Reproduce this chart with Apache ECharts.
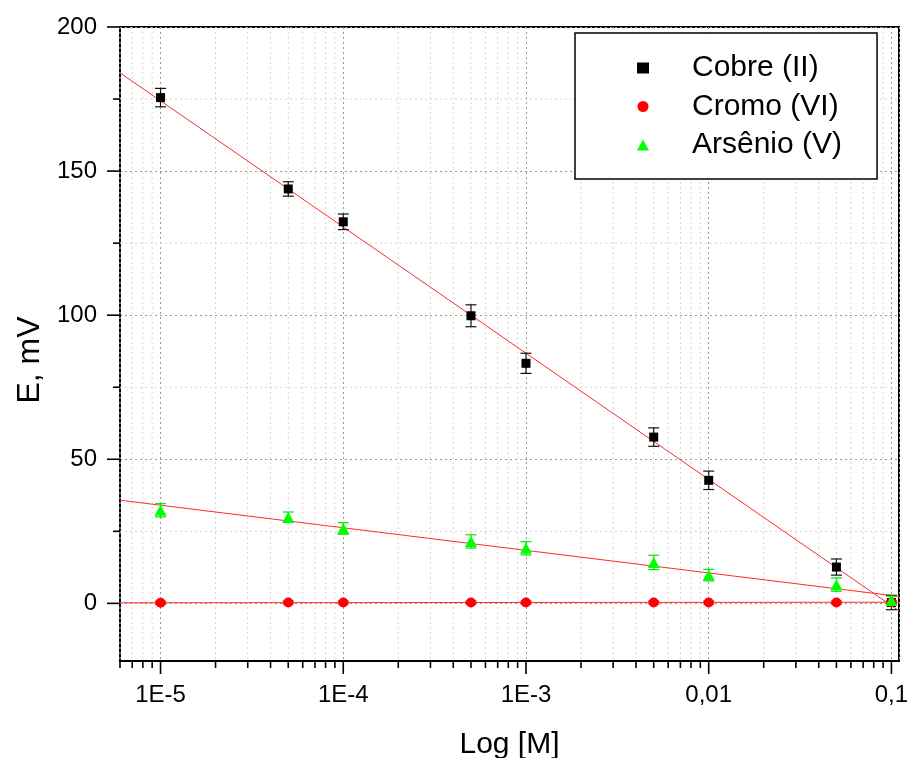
<!DOCTYPE html>
<html>
<head>
<meta charset="utf-8">
<script src="https://cdn.jsdelivr.net/npm/echarts@6/dist/echarts.min.js"></script>
<style>html,body{margin:0;padding:0;background:#fff}#c{width:907px;height:758px}</style>
</head>
<body>
<div id="c"></div>
<script>
// ---- data ----
const conc = [1e-5, 5e-5, 1e-4, 5e-4, 1e-3, 5e-3, 1e-2, 5e-2, 1e-1];
const cobreE = [175.5, 143.8, 132.4, 99.8, 83.3, 57.7, 42.7, 12.6, 0.3];
const cobreErr = [3.2, 2.5, 2.7, 3.8, 3.5, 3.2, 3.2, 2.8, 2.5];
const cromoE = [0.2, 0.3, 0.3, 0.3, 0.3, 0.3, 0.3, 0.3, 0.4];
const cromoErr = [0.5, 0.5, 0.5, 0.5, 0.5, 0.5, 0.5, 0.5, 0.5];
const arsenioE = [32.3, 29.9, 26.0, 21.5, 19.1, 14.2, 9.8, 6.5, 1.0];
const arsenioErr = [2.3, 1.8, 2.0, 2.3, 2.3, 2.5, 2.0, 2.3, 1.5];
// linear fit lines, values read at the two ends of the x range
const fitX = [6e-6, 0.11];
const cobreFit = [184.1, -2.6];
const cromoFit = [0.2, 0.4];
const arsenioFit = [35.8, 2.4];
// axis ticks
const xMajorTicks = [1e-5, 1e-4, 1e-3, 1e-2, 1e-1];
const xTickLabels = ['1E-5', '1E-4', '1E-3', '0,01', '0,1'];
const yMajorTicks = [0, 50, 100, 150, 200];
const yMinorTicks = [25, 75, 125, 175];
const seriesNames = ['Cobre (II)', 'Cromo (VI)', 'Arsênio (V)'];

const xMin = fitX[0], xMax = fitX[1], yMin = -20, yMax = 200;
const FONT = "'Liberation Sans', Arial, sans-serif";

// minor log ticks 2..9 x 10^k inside the range
const xMinorTicks = [];
for (let k = -6; k <= -1; k++) {
  for (let d = 2; d <= 9; d++) {
    const v = d * Math.pow(10, k);
    if (v >= xMin * 0.999 && v <= xMax) xMinorTicks.push(v);
  }
}

function pairs(xs, ys) { return xs.map((x, i) => [x, ys[i]]); }
function errData(xs, ys, es) { return xs.map((x, i) => [x, ys[i] - es[i], ys[i] + es[i]]); }

function errRender(color) {
  return function (params, api) {
    const x = api.value(0);
    const lo = api.coord([x, api.value(1)]);
    const hi = api.coord([x, api.value(2)]);
    const w = 5.5;
    const st = { stroke: color, lineWidth: 1.2 };
    return {
      type: 'group',
      children: [
        { type: 'line', shape: { x1: lo[0], y1: lo[1], x2: hi[0], y2: hi[1] }, style: st },
        { type: 'line', shape: { x1: lo[0] - w, y1: lo[1], x2: lo[0] + w, y2: lo[1] }, style: st },
        { type: 'line', shape: { x1: hi[0] - w, y1: hi[1], x2: hi[0] + w, y2: hi[1] }, style: st }
      ]
    };
  };
}

const xTickData = xMajorTicks.map(v => [v, yMin, 1]).concat(xMinorTicks.map(v => [v, yMin, 0]));
const yTickData = yMajorTicks.map(v => [xMin, v, 1]).concat(yMinorTicks.map(v => [xMin, v, 0]));

const chart = echarts.init(document.getElementById('c'), null, { renderer: 'canvas' });
chart.setOption({
  animation: false,
  backgroundColor: '#fff',
  grid: { left: 120, right: 8, top: 27, bottom: 97, containLabel: false, outerBoundsMode: 'none', show: true, borderColor: '#000', borderWidth: 2, backgroundColor: 'transparent' },
  legend: {
    orient: 'vertical', left: 575, top: 33,
    padding: [20, 35, 19, 62], itemGap: 8.5, itemWidth: 12, itemHeight: 11,
    backgroundColor: '#fff', borderColor: '#000', borderWidth: 1.5,
    selectedMode: false,
    textStyle: { fontSize: 30, fontFamily: FONT, color: '#000', padding: [0, 0, 0, 38] },
    data: [
      { name: seriesNames[0], icon: 'rect', itemStyle: { color: '#000' } },
      { name: seriesNames[1], icon: 'circle' },
      { name: seriesNames[2], icon: 'triangle' }
    ]
  },
  xAxis: {
    type: 'log', min: xMin, max: xMax,
    name: 'Log [M]', nameLocation: 'middle', nameGap: 69,
    nameTextStyle: { fontSize: 30, fontFamily: FONT, color: '#000' },
    axisLine: { onZero: false, lineStyle: { color: '#000', width: 2 } },
    axisTick: { show: false },
    axisLabel: {
      margin: 22, fontSize: 24, fontFamily: FONT, color: '#000',
      showMinLabel: false, showMaxLabel: false,
      formatter: function (v) {
        const i = xMajorTicks.findIndex(t => Math.abs(Math.log10(t) - Math.log10(v)) < 1e-6);
        return i >= 0 ? xTickLabels[i] : '';
      }
    },
    splitLine: { show: true, lineStyle: { color: '#9a9a9a', width: 1, type: [2, 3] } }
  },
  yAxis: {
    type: 'value', min: yMin, max: yMax,
    name: 'E, mV', nameLocation: 'middle', nameGap: 74,
    nameTextStyle: { fontSize: 32, fontFamily: FONT, color: '#000', padding: [0, 32, 0, 0] },
    axisLine: { onZero: false, lineStyle: { color: '#000', width: 2 } },
    axisTick: { show: false },
    axisLabel: { margin: 23, fontSize: 24, fontFamily: FONT, color: '#000', showMinLabel: false },
    splitLine: { show: true, lineStyle: { color: '#9a9a9a', width: 1, type: [2, 3] } }
  },
  series: [
    {
      type: 'custom', name: 'xticks', silent: true, clip: false, z: 1,
      data: xTickData,
      renderItem: function (params, api) {
        const cs = params.coordSys;
        const px = api.coord([api.value(0), yMin])[0];
        const major = api.value(2) === 1;
        const bottom = cs.y + cs.height;
        const ch = [{ type: 'line', shape: { x1: px, y1: bottom, x2: px, y2: bottom + (major ? 13 : 7) }, style: { stroke: '#000', lineWidth: 1.6 } }];
        if (!major) ch.push({ type: 'line', shape: { x1: px, y1: cs.y, x2: px, y2: bottom }, style: { stroke: '#d4d4d4', lineWidth: 1, lineDash: [2, 3] } });
        return { type: 'group', children: ch };
      }
    },
    {
      type: 'custom', name: 'yticks', silent: true, clip: false, z: 1,
      data: yTickData,
      renderItem: function (params, api) {
        const cs = params.coordSys;
        const py = api.coord([xMin, api.value(1)])[1];
        const major = api.value(2) === 1;
        const ch = [{ type: 'line', shape: { x1: cs.x - (major ? 13 : 7), y1: py, x2: cs.x, y2: py }, style: { stroke: '#000', lineWidth: 1.6 } }];
        if (!major) ch.push({ type: 'line', shape: { x1: cs.x, y1: py, x2: cs.x + cs.width, y2: py }, style: { stroke: '#d4d4d4', lineWidth: 1, lineDash: [2, 3] } });
        return { type: 'group', children: ch };
      }
    },
    { type: 'line', name: 'fitCobre', data: pairs(fitX, cobreFit), showSymbol: false, silent: true, z: 2, lineStyle: { color: '#ff2a2a', width: 1 } },
    { type: 'line', name: 'fitCromo', data: pairs(fitX, cromoFit), showSymbol: false, silent: true, z: 2, lineStyle: { color: '#ff2a2a', width: 1 } },
    { type: 'line', name: 'fitArsenio', data: pairs(fitX, arsenioFit), showSymbol: false, silent: true, z: 2, lineStyle: { color: '#ff2a2a', width: 1 } },
    { type: 'custom', name: 'errCobre', data: errData(conc, cobreE, cobreErr), renderItem: errRender('#111'), silent: true, z: 3 },
    { type: 'custom', name: 'errCromo', data: errData(conc, cromoE, cromoErr), renderItem: errRender('#ff0000'), silent: true, z: 3 },
    { type: 'custom', name: 'errArsenio', data: errData(conc, arsenioE, arsenioErr), renderItem: errRender('#00e600'), silent: true, z: 3 },
    { type: 'scatter', name: seriesNames[0], data: pairs(conc, cobreE), symbol: 'rect', symbolSize: 9, itemStyle: { color: '#000', opacity: 1 }, z: 4 },
    { type: 'scatter', name: seriesNames[1], data: pairs(conc, cromoE), symbol: 'circle', symbolSize: 10, itemStyle: { color: '#ff0000', opacity: 1 }, z: 4 },
    { type: 'scatter', name: seriesNames[2], data: pairs(conc, arsenioE), symbol: 'triangle', symbolSize: [12, 11], itemStyle: { color: '#00ff00', opacity: 1 }, z: 4 }
  ]
});
</script>
</body>
</html>
